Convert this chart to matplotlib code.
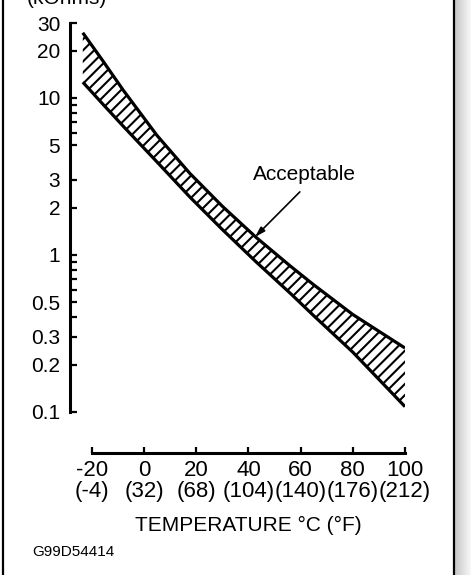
import matplotlib
matplotlib.use("Agg")
import matplotlib.pyplot as plt
import numpy as np
from matplotlib.lines import Line2D

# Acceptable resistance band
temp_c = [-23.5, -16, -8, 5, 17.5, 30, 43, 56, 65, 80, 100]
upper_kohm = [26, 17.4, 11.2, 5.75, 3.31, 2.04, 1.29, 0.85, 0.645, 0.417, 0.255]
lower_kohm = [12.6, 9.2, 6.6, 3.9, 2.34, 1.45, 0.90, 0.57, 0.41, 0.24, 0.108]

x_ticks = [-20, 0, 20, 40, 60, 80, 100]
x_ticklabels = ["-20\n(-4)", "0\n(32)", "20\n(68)", "40\n(104)", "60\n(140)", "80\n(176)", "100\n(212)"]
y_major = [0.1, 0.2, 0.3, 0.5, 1, 2, 3, 5, 10, 20, 30]
y_labels = ["0.1", "0.2", "0.3", "0.5", "1", "2", "3", "5", "10", "20", "30"]
y_minor = [0.4, 0.6, 0.7, 0.8, 0.9, 6, 7, 8, 9]

plt.rcParams['font.family'] = ['Liberation Sans', 'DejaVu Sans']
plt.rcParams['hatch.linewidth'] = 1.5

fig = plt.figure(figsize=(4.71, 5.75), dpi=100)
ax = fig.add_axes([70/471, 1 - 453/575, (405 - 70)/471, (453 - 23)/575])

ax.fill_between(temp_c, lower_kohm, upper_kohm, facecolor='white', edgecolor='black',
                hatch='///', linewidth=0)
ax.plot(temp_c, upper_kohm, color='black', lw=2.3, solid_capstyle='butt', solid_joinstyle='round')
ax.plot(temp_c, lower_kohm, color='black', lw=2.3, solid_capstyle='butt', solid_joinstyle='round')

ax.set_yscale('log')
ax.set_xlim(-28.4, 100)
ax.set_ylim(0.0547, 30)

for side in ['top', 'right']:
    ax.spines[side].set_visible(False)
ax.spines['left'].set_linewidth(2.2)
ax.spines['bottom'].set_linewidth(2.2)
ax.spines['left'].set_bounds(0.1, 30)
ax.spines['bottom'].set_bounds(-20, 100)

ax.set_yticks(y_major)
ax.set_yticklabels(y_labels)
ax.set_yticks(y_minor, minor=True)
ax.yaxis.set_minor_formatter(plt.NullFormatter())
ax.tick_params(axis='y', which='both', direction='in', length=5, width=1.6,
               labelsize=15, pad=7)

ax.set_xticks(x_ticks)
ax.set_xticklabels(x_ticklabels, linespacing=1.0)
ax.tick_params(axis='x', which='major', direction='in', length=4, width=1.6,
               labelsize=16, pad=5)
ax.tick_params(axis='x', which='minor', length=0)

ax.text(40, -0.168, "TEMPERATURE °C (°F)", transform=ax.get_xaxis_transform(),
        ha='center', va='center', fontsize=15)

ax.annotate("", xy=(42.5, 1.30), xytext=(59.7, 2.52),
            arrowprops=dict(arrowstyle='-|>,head_length=0.6,head_width=0.18',
                            color='black', lw=1.2, shrinkA=0, shrinkB=0))
ax.text(61.3, 3.25, "Acceptable", ha='center', va='center', fontsize=15)

fig.text(67/471, 1 - 4/575, "(kOhms)", ha='center', va='baseline', fontsize=15)
fig.text(32/471, 1 - 552/575, "G99D54414", ha='left', va='center', fontsize=11)

# page frame with shadow on the right
fig.add_artist(Line2D([3/471, 3/471], [0, 1], color='black', lw=1.6))
fig.add_artist(Line2D([454/471, 454/471], [0, 1], color='black', lw=1.6))
shadow = fig.add_axes([455/471, 0, 16/471, 1])
shadow.imshow(np.linspace(0.78, 0.97, 32).reshape(1, -1), cmap='gray', vmin=0, vmax=1,
              aspect='auto')
shadow.axis('off')

fig.savefig("out.png", dpi=100)
